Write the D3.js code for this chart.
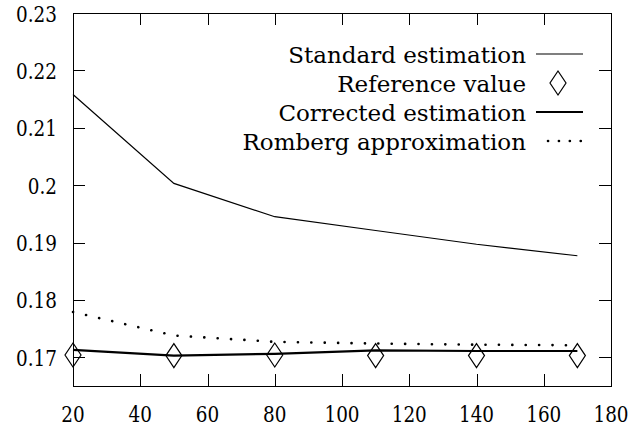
<!DOCTYPE html>
<html>
<head>
<meta charset="utf-8">
<script src="https://cdn.jsdelivr.net/npm/d3@7"></script>
<style>
  body { margin: 0; background: #fff; }
  text { font-family: "DejaVu Serif", serif; fill: #000; font-size: 23px; }
</style>
</head>
<body>
<script>
var w = 632,
    h = 429;

// data
var sizes = [20, 50, 80, 110, 140, 170];
var standard = [0.2158, 0.2003, 0.1945, 0.1921, 0.1897, 0.1877];
var reference = [0.1704, 0.1703, 0.1704, 0.1703, 0.1703, 0.1703];
var corrected = [0.1713, 0.1703, 0.1706, 0.1712, 0.1711, 0.1711];
var romberg = [0.1779, 0.1738, 0.1727, 0.1724, 0.1722, 0.1721];
var xTicks = [20, 40, 60, 80, 100, 120, 140, 160, 180];
var yTicks = [0.17, 0.18, 0.19, 0.2, 0.21, 0.22, 0.23];
var legendNames = ["Standard estimation", "Reference value", "Corrected estimation", "Romberg approximation"];

var pLeft = 73, pRight = 611, pTop = 13, pBottom = 386;

var x = d3.scaleLinear().domain([20, 180]).range([pLeft, pRight]);
var y = d3.scaleLinear().domain([0.165, 0.23]).range([pBottom, pTop]);

var svg = d3.select("body").append("svg")
    .attr("width", w)
    .attr("height", h);

// frame
svg.append("rect")
    .attr("x", pLeft + 0.5).attr("y", pTop + 0.5)
    .attr("width", pRight - pLeft).attr("height", pBottom - pTop)
    .attr("fill", "none").attr("stroke", "#000").attr("stroke-width", 1);

var tickLen = 12;
var numScale = 0.8; // digits of the serif font are wide, squeeze them a bit

// x ticks, bottom and top, pointing in
var xt = svg.append("g");
xTicks.forEach(function(t) {
  var px = Math.round(x(t)) + 0.5;
  xt.append("line")
    .attr("x1", px).attr("x2", px)
    .attr("y1", pBottom).attr("y2", pBottom - tickLen)
    .attr("stroke", "#000");
  xt.append("line")
    .attr("x1", px).attr("x2", px)
    .attr("y1", pTop).attr("y2", pTop + tickLen)
    .attr("stroke", "#000");
  xt.append("text")
    .attr("transform", "translate(" + x(t) + ",422) scale(" + numScale + ",1)")
    .attr("text-anchor", "middle")
    .text(t);
});

// y ticks, left and right
var yt = svg.append("g");
yTicks.forEach(function(t) {
  var py = Math.round(y(t)) + 0.5;
  yt.append("line")
    .attr("x1", pLeft).attr("x2", pLeft + tickLen)
    .attr("y1", py).attr("y2", py)
    .attr("stroke", "#000");
  yt.append("line")
    .attr("x1", pRight).attr("x2", pRight - tickLen)
    .attr("y1", py).attr("y2", py)
    .attr("stroke", "#000");
  yt.append("text")
    .attr("transform", "translate(57," + (y(t) + 8.5) + ") scale(" + numScale + ",1)")
    .attr("text-anchor", "end")
    .text(t);
});

var line = function(vals) {
  return d3.line()
    .x(function(d, i) { return x(sizes[i]); })
    .y(function(d) { return y(d); })(vals);
};

svg.append("path")
    .attr("d", line(standard))
    .attr("fill", "none").attr("stroke", "#000").attr("stroke-width", 1.2);

svg.append("path")
    .attr("d", line(corrected))
    .attr("fill", "none").attr("stroke", "#000").attr("stroke-width", 2.2);

svg.append("path")
    .attr("d", line(romberg))
    .attr("fill", "none").attr("stroke", "#000").attr("stroke-width", 2.6)
    .attr("stroke-linecap", "round")
    .attr("stroke-dasharray", "0.1 13.3");

var diamond = function(cx, cy) {
  return "M" + cx + "," + (cy - 12) + "L" + (cx + 8) + "," + cy +
         "L" + cx + "," + (cy + 12) + "L" + (cx - 8) + "," + cy + "Z";
};

svg.selectAll("path.ref").data(reference).enter().append("path")
    .attr("class", "ref")
    .attr("d", function(d, i) { return diamond(x(sizes[i]), y(d)); })
    .attr("fill", "none").attr("stroke", "#000").attr("stroke-width", 1.2);

// legend
var legY = [54, 83, 112, 141];
var lg = svg.append("g");
legendNames.forEach(function(name, i) {
  lg.append("text")
    .attr("x", 526).attr("y", legY[i] + 8.5)
    .attr("text-anchor", "end")
    .text(name);
});
lg.append("line").attr("x1", 536).attr("x2", 583).attr("y1", legY[0]).attr("y2", legY[0])
    .attr("stroke", "#000").attr("stroke-width", 1.2);
lg.append("path").attr("d", diamond(558, legY[1]))
    .attr("fill", "none").attr("stroke", "#000").attr("stroke-width", 1.2);
lg.append("line").attr("x1", 536).attr("x2", 583).attr("y1", legY[2]).attr("y2", legY[2])
    .attr("stroke", "#000").attr("stroke-width", 2.2);
lg.append("line").attr("x1", 548).attr("x2", 583).attr("y1", legY[3]).attr("y2", legY[3])
    .attr("stroke", "#000").attr("stroke-width", 2.6)
    .attr("stroke-linecap", "round").attr("stroke-dasharray", "0.1 10.8");
</script>
</body>
</html>
